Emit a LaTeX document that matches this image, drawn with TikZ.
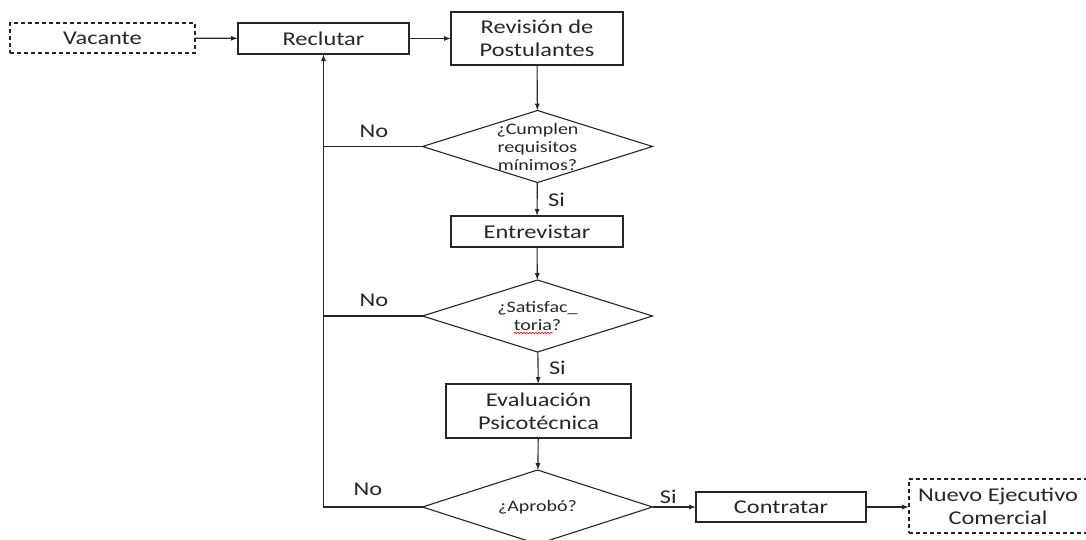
\documentclass[tikz,border=0pt]{standalone}
\usepackage{fontspec}
\setmainfont{Carlito}[FakeStretch=1.25]
\usetikzlibrary{shapes.geometric,arrows.meta,decorations.pathmorphing}
\definecolor{ink}{HTML}{262626}
\begin{document}
\begin{tikzpicture}[x=1pt,y=-1pt,
  line width=1.1pt, draw=ink, text=ink,
  every node/.style={inner sep=0pt, outer sep=0pt},
  procbox/.style={draw, rectangle, align=center, font=\fontsize{19.5}{23}\selectfont},
  termbox/.style={procbox, dash pattern=on 4pt off 3pt},
  decision/.style={draw, diamond, minimum width=#1, minimum height=72pt},
  dtext/.style={align=center, font=\fontsize{16}{18}\selectfont},
  lbl/.style={font=\fontsize{19.5}{23}\selectfont},
  flow/.style={-{Latex[length=7pt,width=5pt]}}
]
\useasboundingbox (0,0) rectangle (1086,539);

% process boxes and terminators
\node[termbox, minimum width=185pt, minimum height=30pt] (vac) at (102.5,38) {Vacante};
\node[procbox, minimum width=171pt, minimum height=31pt] (rec) at (323.5,38.5) {Reclutar};
\node[procbox, minimum width=172pt, minimum height=53pt] (rev) at (537,38.5) {Revisión de\\Postulantes};
\node[procbox, minimum width=172pt, minimum height=31pt] (ent) at (537,231.5) {Entrevistar};
\node[procbox, minimum width=185pt, minimum height=54pt] (eva) at (538.5,411) {Evaluación\\Psicotécnica};
\node[procbox, minimum width=170pt, minimum height=30pt] (con) at (781,507) {Contratar};
\node[termbox, minimum width=178pt, minimum height=54pt] (nue) at (998,506) {Nuevo Ejecutivo\\Comercial};

% decisions
\node[decision=230pt] (d1) at (537.5,146.5) {};
\node[dtext] at (d1) {¿Cumplen\\requisitos\\mínimos?};
\node[decision=230pt] (d2) at (537.5,316) {};
\node[dtext] (d2t) at (d2) {¿Satisfac\_\\toria?};
\node[decision=230pt, minimum height=74pt] (d3) at (537.5,507) {};
\node[dtext] at (d3) {¿Aprobó?};

% spell-check underline
\draw[red, line width=0.6pt, decorate, decoration={snake, amplitude=0.8pt, segment length=3pt}]
  (514,333) -- (553,333);

% main flow
\draw[flow] (vac) -- (rec);
\draw[flow] (rec) -- (rev.west |- rec);
\draw[flow] (rev) -- (d1);
\draw[flow] (d1) -- node[lbl, anchor=west, xshift=11pt, yshift=-1pt] {Si} (ent);
\draw[flow] (ent) -- (d2);
\draw[flow] (d2) -- node[lbl, anchor=west, xshift=11pt, yshift=0pt] {Si} (eva);
\draw[flow] (eva) -- (d3);
\draw[flow] (d3.east) -- node[lbl, anchor=south, yshift=3pt, xshift=-6pt] {Si} (con.west |- d3.east);
\draw[flow] (con) -- (nue.west |- con);

% rejections back to recruiting
\draw[flow] (d3.west) -| (rec.south);
\draw (d1.west) -- (d1.west -| rec.south);
\draw (d2.west) -- (d2.west -| rec.south);
\node[lbl] (no1) at (374,131) {No};
\node[lbl] (no2) at (374,300) {No};
\node[lbl] (no3) at (368,489) {No};
\end{tikzpicture}
\end{document}
